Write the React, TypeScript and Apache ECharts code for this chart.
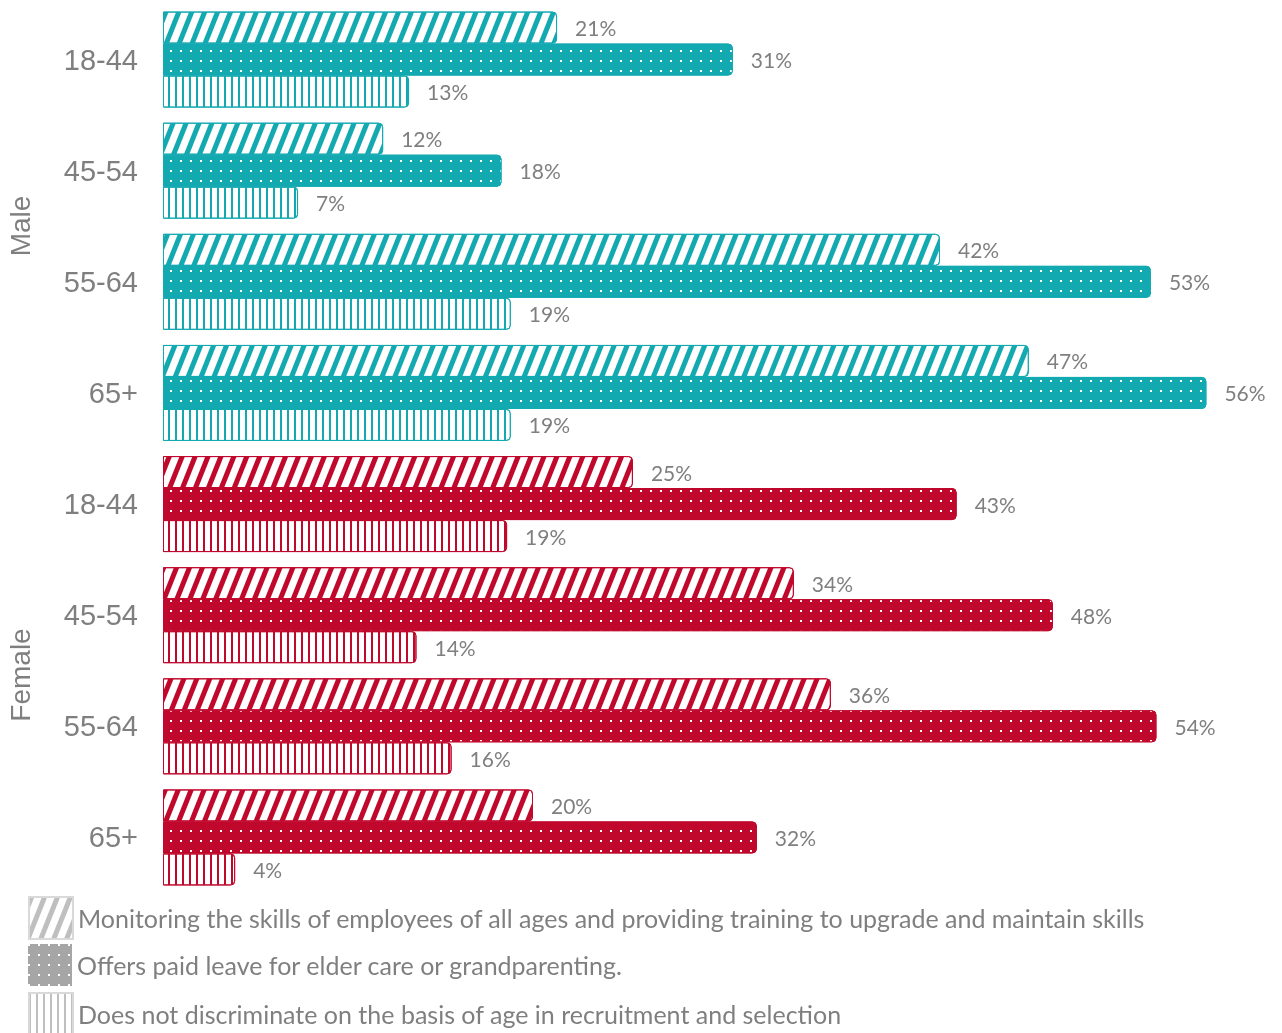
import React, { useEffect, useRef } from "react";
import * as echarts from "echarts";

const categories = ["M|18-44", "M|45-54", "M|55-64", "M|65+", "F|18-44", "F|45-54", "F|55-64", "F|65+"];
const seriesNames = [
  "Monitoring the skills of employees of all ages and providing training to upgrade and maintain skills",
  "Offers paid leave for elder care or grandparenting.",
  "Does not discriminate on the basis of age in recruitment and selection",
];
const monitoring = [21.3, 11.9, 42.0, 46.8, 25.4, 34.1, 36.1, 20.0];
const paidLeave = [30.8, 18.3, 53.4, 56.4, 42.9, 48.1, 53.7, 32.1];
const noDiscrimination = [13.3, 7.3, 18.8, 18.8, 18.6, 13.7, 15.6, 3.9];
const groupLabels = ["Male", "Female"];

const TEAL = "#13A9B1";
const RED = "#C0072C";
const GRAY_TEXT = "#7f7f7f";

const stripeDecal = (color: string) => ({
  symbol: "rect",
  symbolSize: 1,
  dashArrayX: [5, 7],
  dashArrayY: [10, 0],
  rotation: 0.38,
  color,
});
const dotDecal = (color: string) => ({
  symbol: "rect",
  symbolSize: 1,
  dashArrayX: [2, 8],
  dashArrayY: [2, 8],
  color,
});
const lineDecal = (color: string) => ({
  symbol: "rect",
  symbolSize: 1,
  dashArrayX: [2, 5],
  dashArrayY: [10, 0],
  color,
});

export default function App() {
  const ref = useRef<HTMLDivElement>(null);
  useEffect(() => {
    if (!ref.current) return;
    const chart = echarts.init(ref.current, null, { renderer: "svg" });
    const colorFor = (i: number) => (i < 4 ? TEAL : RED);
    const radius = [0, 4, 4, 0];

    const s1 = monitoring.map((v, i) => ({
      value: v,
      itemStyle: { color: "#ffffff", borderColor: colorFor(i), borderWidth: 1, borderRadius: radius, decal: stripeDecal(colorFor(i)) },
    }));
    const s2 = paidLeave.map((v, i) => ({
      value: v,
      itemStyle: { color: colorFor(i), borderColor: colorFor(i), borderWidth: 1, borderRadius: radius, decal: dotDecal("#ffffff") },
    }));
    const s3 = noDiscrimination.map((v, i) => ({
      value: v,
      itemStyle: { color: "#ffffff", borderColor: colorFor(i), borderWidth: 1, borderRadius: radius, decal: lineDecal(colorFor(i)) },
    }));

    const label = {
      show: true,
      position: "right",
      distance: 18,
      color: GRAY_TEXT,
      fontSize: 21,
      fontFamily: "Lato",
      formatter: (p: any) => Math.round(p.value) + "%",
    };

    const mk = (name: string, data: any[], itemStyle: any) => ({
      name,
      type: "bar",
      data,
      barWidth: 32,
      barGap: "0%",
      itemStyle,
      label,
      emphasis: { disabled: true },
    });

    const legends = seriesNames.map((n, i) => ({
      orient: "vertical",
      left: 28,
      top: 896 + i * 48,
      padding: 0,
      itemWidth: 44,
      itemHeight: 42,
      icon: "rect",
      selectedMode: false,
      textStyle: { fontFamily: "Lato", fontSize: 25, color: GRAY_TEXT },
      data: [n],
    }));

    const groupText = (text: string, y: number) => ({
      type: "text",
      x: 20,
      y,
      rotation: Math.PI / 2,
      style: { text, fontSize: 28, fill: GRAY_TEXT, fontFamily: "Liberation Sans", align: "center", verticalAlign: "middle" },
    });

    chart.setOption({
      animation: false,
      grid: { left: 163, right: 9, top: 4, height: 889 },
      xAxis: { type: "value", min: 0, max: 60, show: false },
      yAxis: {
        type: "category",
        data: categories,
        inverse: true,
        axisLine: { show: false },
        axisTick: { show: false },
        splitLine: { show: false },
        axisLabel: {
          margin: 25,
          fontSize: 29,
          color: GRAY_TEXT,
          fontFamily: "Liberation Sans",
          formatter: (v: string) => v.split("|")[1],
        },
      },
      legend: legends,
      graphic: [groupText(groupLabels[0], 226), groupText(groupLabels[1], 675)],
      series: [
        mk(seriesNames[0], s1, { color: "#ffffff", borderColor: "#d9d9d9", borderWidth: 1, decal: stripeDecal("#bfbfbf") }),
        mk(seriesNames[1], s2, { color: "#a6a6a6", decal: dotDecal("#ffffff") }),
        mk(seriesNames[2], s3, { color: "#ffffff", borderColor: "#d9d9d9", borderWidth: 1, decal: lineDecal("#bfbfbf") }),
      ],
    });
    return () => chart.dispose();
  }, []);
  return <div ref={ref} style={{ position: "fixed", left: 0, top: 0, width: 1282, height: 1033 }} />;
}
